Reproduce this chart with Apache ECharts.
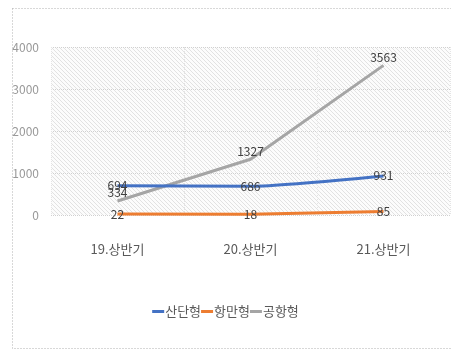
<!DOCTYPE html>
<html>
<head>
<meta charset="utf-8">
<script src="https://cdn.jsdelivr.net/npm/echarts@6/dist/echarts.min.js"></script>
<style>
  html, body { margin: 0; padding: 0; background: #fff; }
  #chart { width: 451px; height: 353px; }
</style>
</head>
<body>
<div id="chart"></div>
<script>
const categories = ["19.상반기", "20.상반기", "21.상반기"];
const sandan = [694, 686, 931];
const hangman = [22, 18, 85];
const gonghang = [334, 1327, 3563];
const yTicks = [0, 1000, 2000, 3000, 4000];

// fine diagonal hatching like the original
const pat = document.createElement("canvas");
pat.width = 4;
pat.height = 4;
const pctx = pat.getContext("2d");
pctx.fillStyle = "#fcfcfc";
pctx.fillRect(0, 0, 4, 4);
pctx.strokeStyle = "#e2e2e2";
pctx.lineWidth = 1;
pctx.beginPath();
pctx.moveTo(0, 0);
pctx.lineTo(4, 4);
pctx.moveTo(-2, 2);
pctx.lineTo(2, 6);
pctx.moveTo(2, -2);
pctx.lineTo(6, 2);
pctx.stroke();

const chart = echarts.init(document.getElementById("chart"));
const font = '"Noto Sans CJK KR", sans-serif';
const labelStyle = {
  show: true,
  color: "#404040",
  fontSize: 12,
  fontFamily: font,
};

chart.setOption({
  animation: false,
  graphic: [
    {
      type: "rect",
      shape: { x: 12.5, y: 8.5, width: 460, height: 340 },
      style: { fill: "none", stroke: "#b0b0b0", lineDash: [1, 2], lineWidth: 1 },
    },
  ],
  grid: {
    left: 51,
    right: 1,
    top: 47,
    bottom: 138,
    show: true,
    borderWidth: 0,
    backgroundColor: { image: pat, repeat: "repeat" },
  },
  legend: {
    bottom: 30,
    left: "center",
    icon: "rect",
    itemWidth: 12,
    itemHeight: 3,
    itemGap: 0,
    textStyle: { color: "#595959", fontSize: 13, fontFamily: font, padding: [0, 0, 0, -4] },
    data: ["산단형", "항만형", "공항형"],
  },
  xAxis: {
    type: "category",
    data: categories,
    boundaryGap: true,
    axisLine: { show: false },
    axisTick: { show: false },
    splitLine: { show: true, lineStyle: { color: "#e4e4e4", type: "dotted" } },
    axisLabel: { color: "#595959", fontSize: 13, fontFamily: font, margin: 28 },
  },
  yAxis: {
    type: "value",
    min: 0,
    max: 4000,
    interval: 1000,
    axisLine: { show: false },
    axisTick: { show: false },
    splitLine: { show: true, lineStyle: { color: "#d0d0d0", type: "dotted" } },
    axisLabel: {
      color: "#999999",
      fontSize: 12,
      fontFamily: font,
      margin: 12,
      formatter: (v) => (yTicks.includes(v) ? String(v) : ""),
    },
  },
  series: [
    {
      name: "산단형",
      type: "line",
      data: sandan,
      symbol: "circle",
      symbolSize: 0.1,
      smooth: 0.2,
      z: 3,
      lineStyle: { width: 3, color: "#4472c4" },
      itemStyle: { color: "#4472c4" },
      label: { ...labelStyle, position: "inside" },
    },
    {
      name: "항만형",
      type: "line",
      data: hangman,
      symbol: "circle",
      symbolSize: 0.1,
      z: 2,
      lineStyle: { width: 3, color: "#ed7d31" },
      itemStyle: { color: "#ed7d31" },
      label: { ...labelStyle, position: "inside" },
    },
    {
      name: "공항형",
      type: "line",
      data: gonghang,
      symbol: "circle",
      symbolSize: 0.1,
      z: 1,
      lineStyle: { width: 3, color: "#a5a5a5" },
      itemStyle: { color: "#a5a5a5" },
      label: { ...labelStyle, position: "top", distance: 2 },
    },
  ],
});
</script>
</body>
</html>
